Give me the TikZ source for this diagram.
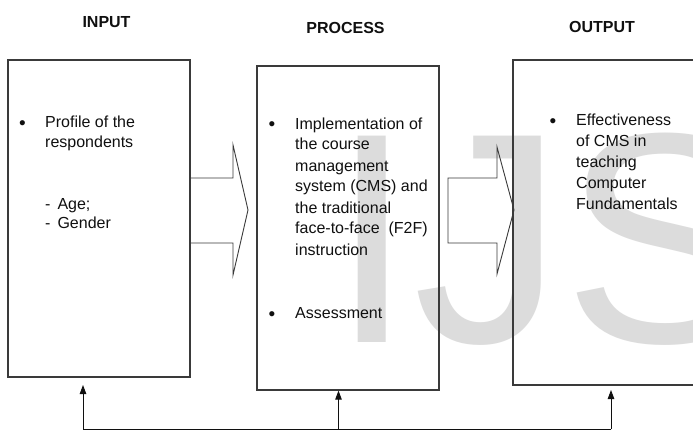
\documentclass[tikz,border=0pt]{standalone}
\usepackage{fontspec}
\setmainfont{Liberation Sans}
\setsansfont{Liberation Sans}
\usetikzlibrary{arrows.meta}
\definecolor{boxline}{HTML}{3A3A3A}
\definecolor{txt}{HTML}{101010}
\definecolor{wm}{HTML}{DCDCDC}
\tikzset{
  panel/.style={draw=boxline, line width=1.2pt, inner sep=0pt},
  head/.style={font=\fontsize{16}{16}\selectfont\bfseries, text=txt, inner sep=0pt, anchor=base},
  body/.style={font=\fontsize{16}{21}\selectfont, text=txt, inner sep=0pt, anchor=base west, align=left},
  bul/.style={font=\fontsize{19}{19}\selectfont, text=txt, inner sep=0pt, anchor=base},
  blockarrow/.style={draw=boxline, line width=0.9pt, line join=miter},
  fb/.style={draw=txt, line width=0.9pt},
  fbtip/.style={fb, -{Triangle[length=9pt,width=6.5pt]}}
}
\begin{document}
\begin{tikzpicture}[x=1pt,y=-1pt]
\clip (0,0) rectangle (693,430);
\fill[white] (0,0) rectangle (693,430);
% watermark
\node[font=\fontsize{300}{300}\selectfont, text=wm, inner sep=0pt, anchor=base west] (wmk) at (330,342) {IJS};
% headers
\node[head] (hin) at (106.5,28) {INPUT};
\node[head] (hpr) at (345.5,34) {PROCESS};
\node[head] (hout) at (602,33) {OUTPUT};
% boxes
\node[panel, minimum width=182pt, minimum height=317pt] (in) at (99,218.5) {};
\node[panel, minimum width=182pt, minimum height=324pt] (pr) at (348,228) {};
\node[panel, minimum width=190pt, minimum height=325pt] (out) at (608,222.5) {};
% block arrows
\draw[blockarrow] (190,178) -- (233,178) -- (233,145) -- (248,210) -- (233,275) -- (233,243) -- (190,243);
\draw[blockarrow] (448,178) -- (497,178) -- (497,147) -- (514,210) -- (497,274) -- (497,243) -- (448,243) -- cycle;
% input text (anchor = baseline of the last line)
\node[bul] (b1) at (22.5,130) {•};
\node[body, font=\fontsize{16}{20}\selectfont] (t1) at (45,148) {Profile of the\\respondents};
\node[body, font=\fontsize{16}{19}\selectfont] (t2) at (45,229) {-\hspace{7pt}Age;\\-\hspace{7pt}Gender};
% process text
\node[bul] (b2) at (272,131) {•};
\node[body] (t3) at (295,255) {Implementation of\\the course\\management\\system (CMS) and\\the traditional\\face-to-face\ \ (F2F)\\instruction};
\node[bul] (b3) at (272,320) {•};
\node[body] (t4) at (295,318) {Assessment};
% output text
\node[bul] (b4) at (553,128) {•};
\node[body] (t5) at (576,210) {Effectiveness\\of CMS in\\teaching\\Computer\\Fundamentals};
% feedback loop
\coordinate (fbL) at (83,429);
\coordinate (fbM) at (338.5,429);
\coordinate (fbR) at (611,429);
\coordinate (tipL) at (83,385);
\coordinate (tipR) at (611,390);
\draw[fb] (fbL) -- (fbR);
\draw[fbtip] (fbL) -- (tipL);
\draw[fbtip] (fbM) -- (fbM |- pr.south);
\draw[fbtip] (fbR) -- (tipR);
\end{tikzpicture}
\end{document}
